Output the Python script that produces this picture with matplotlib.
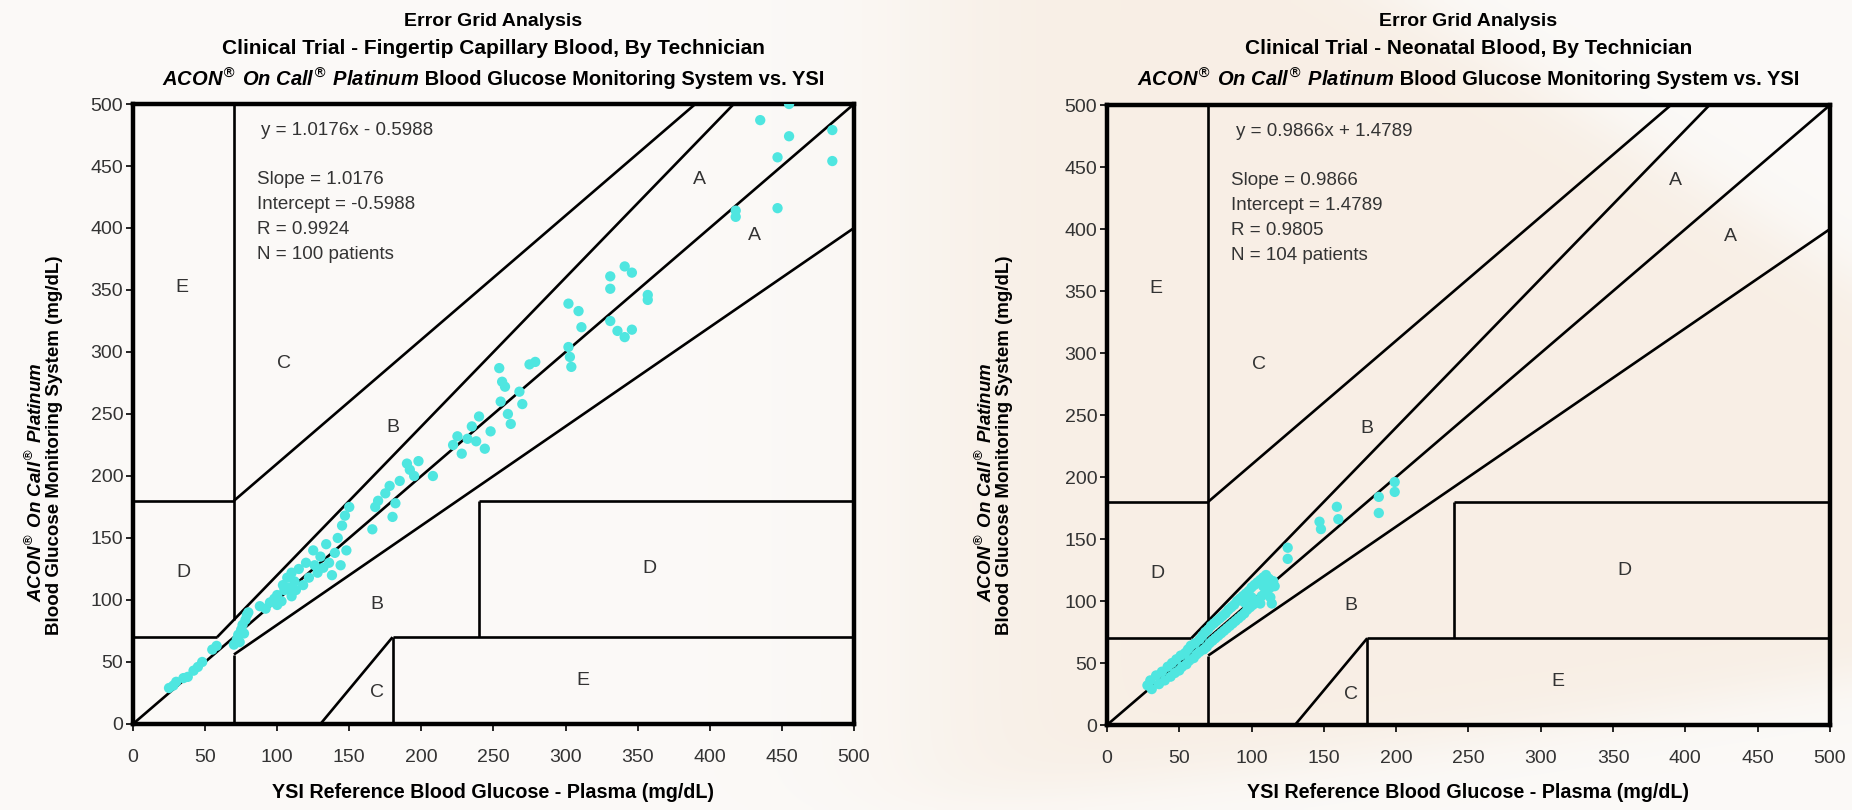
import numpy as np
import matplotlib
matplotlib.use("Agg")
import matplotlib.pyplot as plt
from matplotlib import font_manager

# ---------------- data ----------------
finger_ysi = [25, 28, 30, 35, 38, 42, 45, 48, 55, 58,
              70, 72, 73, 75, 76, 78, 79, 80, 74, 77,
              88, 92, 95, 98, 100, 103, 105, 108, 110, 112,
              100, 104, 107, 110, 113, 115, 118, 120, 122, 125, 126, 128,
              130, 132, 134, 136, 138, 140, 142, 144, 145, 147, 148, 150,
              166, 168, 170, 175, 178, 180, 182, 185, 190, 192, 195, 198,
              208, 222, 225, 228, 232, 235, 238, 240, 244, 248,
              254, 256, 258, 255, 260, 262, 268, 270, 275, 279,
              302, 309, 311, 302, 303, 304, 331, 331, 341, 346, 357, 357,
              331, 336, 341, 346,
              418, 418, 447, 455, 435, 485, 455, 447, 485]
finger_meter = [29, 31, 34, 37, 38, 43, 46, 50, 60, 63,
                64, 68, 72, 76, 80, 84, 88, 90, 66, 73,
                95, 93, 98, 101, 104, 99, 108, 110, 103, 115,
                96, 112, 118, 122, 108, 125, 112, 130, 118, 140, 128, 122,
                135, 126, 145, 130, 120, 138, 150, 128, 160, 168, 140, 175,
                157, 175, 180, 186, 192, 167, 178, 196, 210, 205, 200, 212,
                200, 225, 232, 218, 230, 240, 228, 248, 222, 236,
                287, 276, 272, 260, 250, 242, 268, 258, 290, 292,
                339, 333, 320, 304, 296, 288, 361, 351, 369, 364, 346, 342,
                325, 317, 312, 318,
                414, 409, 416, 500, 487, 479, 474, 457, 454]

neo_ysi = [199, 199, 188, 188, 159, 160, 147, 148, 125, 125, 113, 114,
           28, 30, 31, 34, 36, 38, 40, 42, 44, 45, 47, 48, 50, 51, 52, 54,
           55, 56, 57, 58, 60, 61, 62, 64, 64, 66, 67, 68, 69, 70, 71, 72,
           73, 74, 75, 76, 77, 78, 79, 80, 81, 82, 83, 84, 85, 86, 87, 88,
           89, 90, 91, 92, 93, 94, 95, 96, 97, 98, 99, 100, 101, 102, 103,
           104, 105, 106, 107, 108, 109, 110, 111, 112, 113, 115, 116, 110,
           108, 106, 100, 95]
neo_meter = [196, 188, 184, 171, 176, 166, 164, 158, 143, 134, 103, 98,
             32, 36, 29, 40, 33, 43, 36, 47, 39, 50, 42, 53, 44, 56, 47, 58,
             49, 61, 52, 64, 54, 66, 57, 69, 59, 72, 61, 75, 63, 77, 66, 80,
             68, 82, 70, 84, 72, 86, 74, 88, 76, 90, 78, 93, 80, 95, 82, 97,
             84, 100, 86, 102, 88, 104, 90, 106, 93, 108, 95, 111, 97, 113, 99,
             115, 101, 117, 104, 119, 106, 121, 108, 118, 111, 116, 112, 115,
             112, 98, 103, 99]

axis_ticks = [0, 50, 100, 150, 200, 250, 300, 350, 400, 450, 500]

# Clarke error grid boundaries (x pair, y pair)
clarke_lines = [
    ([0, 500], [0, 500]),
    ([0, 58.33], [70, 70]),
    ([58.33, 416.67], [70, 500]),
    ([70, 70], [84, 500]),
    ([70, 70], [0, 56]),
    ([70, 500], [56, 400]),
    ([0, 70], [180, 180]),
    ([70, 390], [180, 500]),
    ([130, 180], [0, 70]),
    ([180, 180], [0, 70]),
    ([180, 500], [70, 70]),
    ([240, 240], [70, 180]),
    ([240, 500], [180, 180]),
]

zone_names = ["A", "A", "B", "B", "C", "C", "D", "D", "E", "E"]
zone_x = [393, 431, 180, 169, 105, 169, 35, 358, 34, 312]
zone_y = [439, 394, 239, 96, 291, 25, 122, 125, 352, 35]

finger_stats = ["y = 1.0176x - 0.5988", "Slope = 1.0176", "Intercept = -0.5988",
                "R = 0.9924", "N = 100 patients"]
neo_stats = ["y = 0.9866x + 1.4789", "Slope = 0.9866", "Intercept = 1.4789",
             "R = 0.9805", "N = 104 patients"]

finger_title = "Clinical Trial - Fingertip Capillary Blood, By Technician"
neo_title = "Clinical Trial - Neonatal Blood, By Technician"

# ---------------- style ----------------
plt.rcParams['font.family'] = ['Liberation Sans', 'DejaVu Sans']
try:
    font_manager.findfont('Liberation Sans Narrow', fallback_to_default=False)
    head_font = ['Liberation Sans Narrow', 'Liberation Sans', 'DejaVu Sans']
    head_size = 17
except Exception:
    head_font = ['Liberation Sans', 'DejaVu Sans']
    head_size = 14.5

dot_color = '#4FE6E0'
text_gray = '#333333'

fig = plt.figure(figsize=(18.52, 8.10), dpi=100)

# soft background: off-white with a beige wash on the right
bg = fig.add_axes([0, 0, 1, 1], zorder=-10)
uu, vv = np.meshgrid(np.linspace(0, 1, 463), np.linspace(1, 0, 203))
def sig(z):
    return 1 / (1 + np.exp(-z))
w = sig((uu - 0.50) / 0.03)
w *= sig(-((uu - 0.76) * 0.34 + (vv - 1.0) * 0.24) / 0.006)
w *= sig((vv - 0.16 * np.clip((uu - 0.47) / 0.53, 0, 1) ** 1.3) / 0.02)
base = np.array([0.985, 0.979, 0.970])
beige = np.array([0.973, 0.936, 0.899])
img = base[None, None, :] * (1 - w[..., None]) + beige[None, None, :] * w[..., None]
bg.imshow(img, extent=[0, 1, 0, 1], aspect='auto', interpolation='bilinear')
bg.set_xlim(0, 1)
bg.set_ylim(0, 1)
bg.axis('off')


def draw_panel(rect, ysi, meter, stats, subtitle, label_x):
    ax = fig.add_axes(rect)
    ax.set_facecolor('none')
    for xs, ys in clarke_lines:
        ax.plot(xs, ys, color='black', lw=1.9, solid_capstyle='butt', zorder=2)
    ax.scatter(ysi, meter, s=55, color=dot_color, edgecolors='none', zorder=3)

    for name, zx, zy in zip(zone_names, zone_x, zone_y):
        ax.text(zx, zy, name, fontsize=14, color=text_gray, ha='center', va='center')

    ax.text(89, 479, stats[0], fontsize=13.5, color=text_gray, va='center')
    for i, line in enumerate(stats[1:]):
        ax.text(86, 439 - 20 * i, line, fontsize=13.5, color=text_gray, va='center')

    ax.set_xlim(0, 500)
    ax.set_ylim(0, 500)
    ax.set_xticks(axis_ticks)
    ax.set_yticks(axis_ticks)
    ax.tick_params(direction='out', length=5, width=1.2, labelsize=14,
                   labelcolor=text_gray, top=False, right=False)
    ax.tick_params(axis='x', pad=13)
    ax.tick_params(axis='y', pad=2)
    for sp in ax.spines.values():
        sp.set_linewidth(3.2)
        sp.set_color('black')

    cx = rect[0] + rect[2] / 2
    fig.text(cx, 0.973, "Error Grid Analysis", ha='center', va='center',
             fontsize=head_size - 0.5, fontweight='bold', family=head_font)
    fig.text(cx, 0.940, subtitle, ha='center', va='center',
             fontsize=head_size + 0.5, fontweight='bold', family=head_font)

    # third title line: italic brand part + upright part, centred together
    t1 = fig.text(0, 0.902, r"ACON$^{\circledR}$ On Call$^{\circledR}$ Platinum",
                  ha='left', va='center', fontsize=head_size, fontweight='bold',
                  fontstyle='italic', family=head_font)
    t2 = fig.text(0, 0.902, " Blood Glucose Monitoring System vs. YSI",
                  ha='left', va='center', fontsize=head_size, fontweight='bold',
                  family=head_font)
    r = fig.canvas.get_renderer()
    w1 = t1.get_window_extent(r).width / fig.bbox.width
    w2 = t2.get_window_extent(r).width / fig.bbox.width
    x0 = cx - (w1 + w2) / 2
    t1.set_x(x0)
    t2.set_x(x0 + w1)

    fig.text(cx, 0.022, "YSI Reference Blood Glucose - Plasma (mg/dL)",
             ha='center', va='center', fontsize=head_size - 0.3, fontweight='bold',
             family=head_font)

    # y label: two rotated lines
    fig.text(label_x, 0.405, r"ACON$^{\circledR}$ On Call$^{\circledR}$ Platinum",
             rotation=90, ha='center', va='center', fontsize=head_size - 1,
             fontweight='bold', fontstyle='italic', family=head_font)
    fig.text(label_x + 0.0105, 0.45, "Blood Glucose Monitoring System (mg/dL)",
             rotation=90, ha='center', va='center', fontsize=head_size - 1,
             fontweight='bold', family=head_font)
    return ax


fig.canvas.draw()
draw_panel([0.0718, 0.1062, 0.3893, 0.7654], finger_ysi, finger_meter,
           finger_stats, finger_title, 0.019)
draw_panel([0.5977, 0.1049, 0.3904, 0.7654], neo_ysi, neo_meter,
           neo_stats, neo_title, 0.532)

fig.savefig("out.png", dpi=100)
